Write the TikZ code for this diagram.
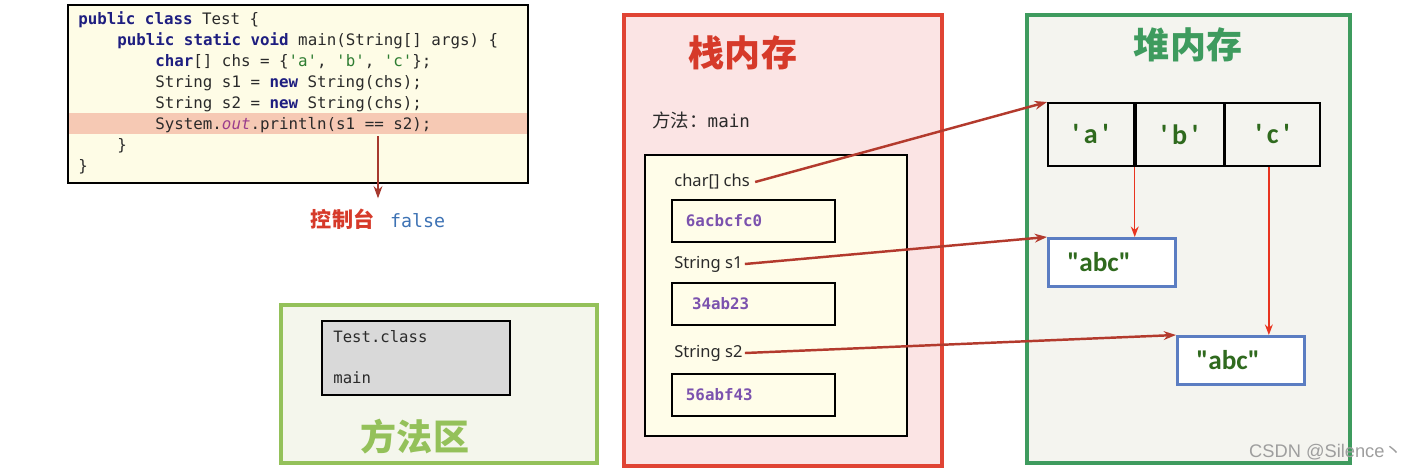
\documentclass[tikz,border=0pt]{standalone}
\usepackage{fontspec}
\setmainfont{Noto Sans}
\setmonofont{DejaVu Sans Mono}
\newfontfamily\cjk{Noto Sans CJK SC}
\newfontfamily\calib{Carlito}
\newfontfamily\wmfont{Liberation Sans}
\usetikzlibrary{positioning,arrows.meta}

\definecolor{codebg}{HTML}{FEFCE6}
\definecolor{hlrow}{HTML}{F6C9B4}
\definecolor{kwblue}{HTML}{1E1E80}
\definecolor{codetxt}{HTML}{2A2A2A}
\definecolor{strgreen}{HTML}{2E7D32}
\definecolor{outpurple}{HTML}{9A3D8C}
\definecolor{consred}{HTML}{D63A2A}
\definecolor{falseblue}{HTML}{3D72B4}
\definecolor{outarrow}{HTML}{A6392E}
\definecolor{stackred}{HTML}{E04434}
\definecolor{stackbg}{HTML}{FBE4E4}
\definecolor{innerbg}{HTML}{FFFDE9}
\definecolor{valpurple}{HTML}{7B52AE}
\definecolor{heapgreen}{HTML}{3E9B5E}
\definecolor{heapbg}{HTML}{F4F4EF}
\definecolor{chargreen}{HTML}{2F6A1E}
\definecolor{boxblue}{HTML}{5B7DC2}
\definecolor{methgreen}{HTML}{94C15A}
\definecolor{methbg}{HTML}{F4F6EC}
\definecolor{clsgrey}{HTML}{D9D9D9}
\definecolor{refred}{HTML}{B33A2D}
\definecolor{charred}{HTML}{E8341F}

\newcommand\kw[1]{\textcolor{kwblue}{\bfseries #1}}
\newcommand\chq[1]{\textcolor{strgreen}{\textquotesingle#1\textquotesingle}}

\begin{document}
\begin{tikzpicture}[x=0.02cm, y=-0.02cm,
    codeline/.style={anchor=base west, inner sep=0, text=codetxt, font=\ttfamily\fontsize{9}{11}\selectfont},
    title/.style={inner sep=0, font=\cjk\bfseries\fontsize{20.5}{22}\selectfont},
    varlabel/.style={anchor=west, inner sep=0, text=codetxt, font=\fontsize{9.4}{11}\selectfont},
    valbox/.style={draw, line width=1.1pt, anchor=north west, minimum height=0.84cm,
                   inner xsep=0.28cm, text width=2.70cm, align=left, text=valpurple,
                   font=\ttfamily\bfseries\fontsize{9}{11}\selectfont},
    cell/.style={draw, line width=1pt, minimum height=1.26cm, inner sep=0, text=chargreen,
                 font=\calib\bfseries\fontsize{16}{18}\selectfont},
    strbox/.style={draw=boxblue, line width=1.6pt, fill=white, anchor=north west,
                   minimum height=0.96cm, inner xsep=0.38cm, text width=1.78cm, align=left,
                   text=chargreen, font=\calib\bfseries\fontsize{15.5}{17}\selectfont},
    refarrow/.style={draw=refred, line width=1.4pt, -{Stealth[length=7pt,width=5pt]}},
    chararrow/.style={draw=charred, line width=0.8pt, -{Stealth[length=6pt,width=4.5pt]}}]
  \useasboundingbox (0,0) rectangle (1417,468);

  \fill[codebg] (68,5) rectangle (528,183);
  \fill[hlrow] (68,113) rectangle (528,134);
  \draw[line width=1.1pt] (68,5) rectangle (528,183);
  \node (code1) [codeline] at (78,24.5) {\kw{public class} Test \{};
  \node (code2) [codeline] at (117,45.5) {\kw{public static void} main(String[] args) \{};
  \node (code3) [codeline] at (155,66.5) {\kw{char}[] chs = \{\chq{a}, \chq{b}, \chq{c}\};};
  \node (code4) [codeline] at (155,87.5) {String s1 = \kw{new} String(chs);};
  \node (code5) [codeline] at (155,108.5) {String s2 = \kw{new} String(chs);};
  \node (code6) [codeline] at (155,129) {System.\textcolor{outpurple}{\itshape out}.println(s1 == s2);};
  \node (code7) [codeline] at (117,150) {\}};
  \node (code8) [codeline] at (78,171) {\}};
  \coordinate (eqmark) at (378,136);
  \node (console) [inner sep=0] at (378,219)
        {{\cjk\bfseries\fontsize{12}{14}\selectfont\color{consred}控制台}\hspace{9pt}{\ttfamily\fontsize{10.4}{12}\selectfont\color{falseblue}false}};
  \draw[outarrow, line width=1.1pt, -{Stealth[length=7pt,width=5pt]}] (eqmark) -- ([yshift=0.2cm]eqmark |- console.north);

  \draw[methgreen, line width=1.8pt, fill=methbg] (281,305) rectangle (597,463);
  \draw[line width=1pt, fill=clsgrey] (322,321) rectangle (510,395);
  \node (clsname) [anchor=west, inner sep=0, text=codetxt, font=\ttfamily\fontsize{8.9}{11}\selectfont] at (333,337) {Test.class};
  \node (clsmain) [anchor=west, inner sep=0, text=codetxt, font=\ttfamily\fontsize{8.9}{11}\selectfont] at (333,378) {main};
  \node (methtitle) [title, text=methgreen] at (415,437) {方法区};

  \draw[stackred, line width=1.8pt, fill=stackbg] (624,15) rectangle (942,466);
  \node (stacktitle) [title, text=consred] at (743,53) {栈内存};
  \node (frame) [anchor=west, inner sep=0, text=codetxt] at (652,120)
        {{\cjk\fontsize{10.5}{12}\selectfont 方法：}{\ttfamily\fontsize{10}{12}\selectfont main}};
  \draw[line width=0.7pt, fill=innerbg] (645,155) rectangle (907,436);
  \node (chs) [varlabel] at (674,182) {char[] chs};
  \node (v1) [valbox] at (671,199) {6acbcfc0};
  \node (s1) [varlabel] at (674,264) {String s1};
  \node (v2) [valbox] at (671,282) {\hspace{3.5pt}34ab23};
  \node (s2) [varlabel] at (674,353) {String s2};
  \node (v3) [valbox] at (671,373) {56abf43};

  \draw[heapgreen, line width=1.8pt, fill=heapbg] (1027,15) rectangle (1350,463);
  \node (heaptitle) [title, text=heapgreen] at (1188,45) {堆内存};
  \node (cellA) [cell, anchor=north west, minimum width=1.72cm] at (1047,102) {\textquotesingle\,a\,\textquotesingle};
  \node (cellB) [cell, minimum width=1.76cm, right=0pt of cellA] {\textquotesingle\,b\,\textquotesingle};
  \node (cellC) [cell, minimum width=1.90cm, right=0pt of cellB] {\textquotesingle\,c\,\textquotesingle};
  \node (abc1) [strbox] at (1047,237) {"abc"};
  \node (abc2) [strbox] at (1176,335) {"abc"};

  \draw[chararrow] (cellA.south east) -- (cellA.south east |- abc1.north);
  \draw[chararrow] ([xshift=-0.08cm]cellC.south) -- ([xshift=-0.08cm]cellC.south |- abc2.north);
  \draw[refarrow] ([xshift=0.1cm]chs.east) -- (cellA.north west);
  \draw[refarrow] ([xshift=0.04cm]s1.east) -- (abc1.north west);
  \draw[refarrow] ([xshift=0.04cm]s2.east) -- (abc2.north west);

  \node (mark) [inner sep=0, text=black!38, font=\wmfont\fontsize{10.4}{12}\selectfont] at (1326,452) {CSDN @Silence{\cjk 丶}};
\end{tikzpicture}
\end{document}
